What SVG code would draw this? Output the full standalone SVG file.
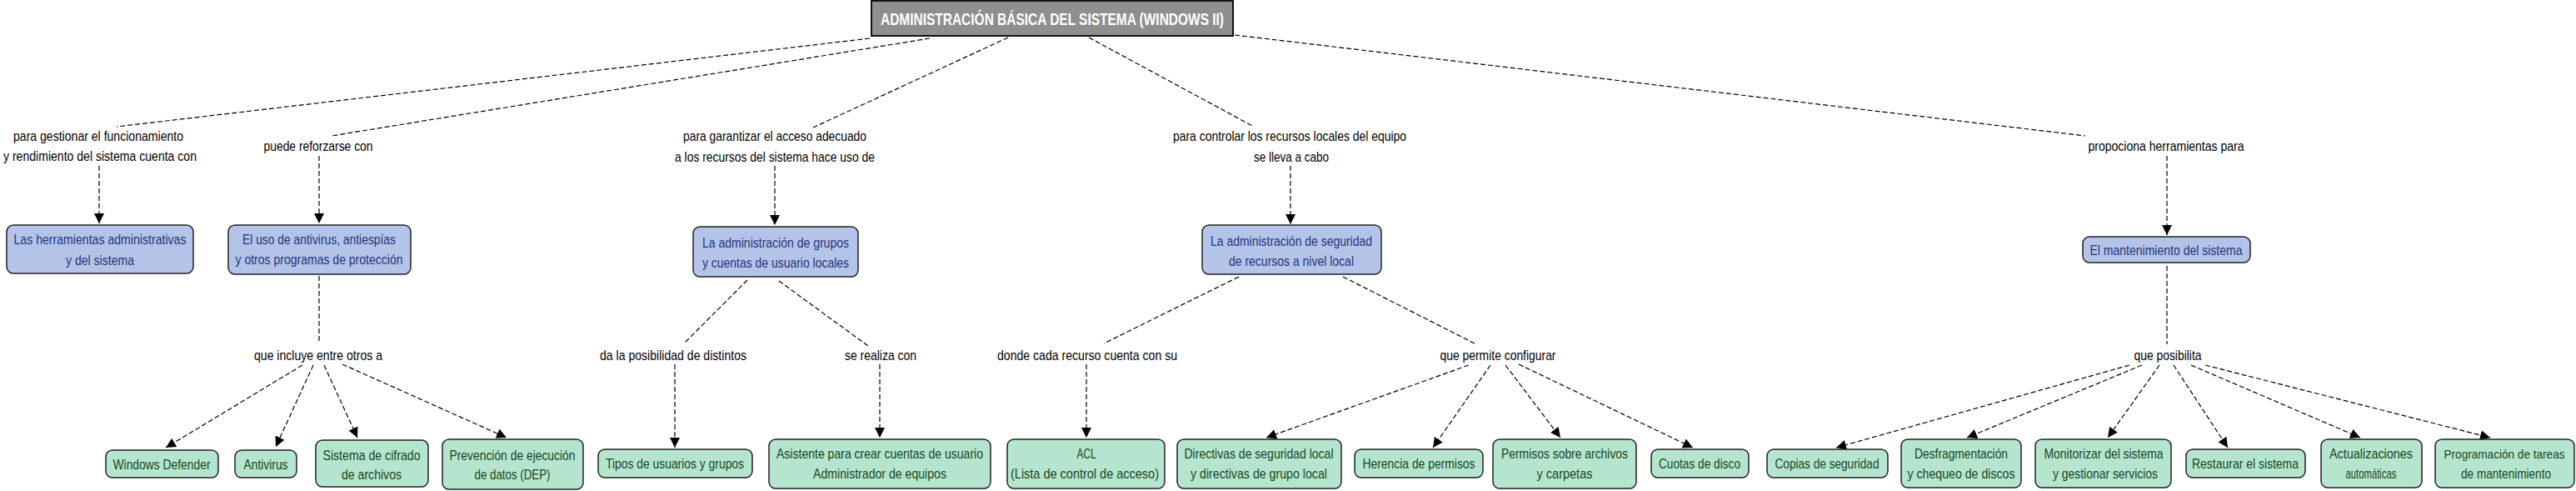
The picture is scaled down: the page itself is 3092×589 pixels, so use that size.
<svg xmlns="http://www.w3.org/2000/svg" width="3092" height="589" viewBox="0 0 3092 589">
<style>
text{font-family:"Liberation Sans",Arial,sans-serif;font-size:17px;text-anchor:middle}
.lbl{fill:#000}
.main rect{fill:#b4c4e8;stroke:#222;stroke-width:1.5}
.main text{fill:#24347a}
.leaf rect{fill:#b5e5cf;stroke:#222;stroke-width:1.5}
.leaf text{fill:#17461a}
.root rect{fill:#8f8f8f;stroke:#111;stroke-width:2}
.root text{fill:#fff;font-weight:bold;font-size:20px}
#connectors line{stroke:#000;stroke-width:1.2;stroke-dasharray:6 3;fill:none}
#connectors line.a{marker-end:url(#arr)}
</style>
<defs>
<marker id="arr" markerUnits="userSpaceOnUse" markerWidth="13" markerHeight="13" refX="12" refY="6" orient="auto">
<path d="M0,0 L12,6 L0,12 z" fill="#000"/>
</marker>
</defs>
<g id="connectors">
<line x1="1044" y1="46" x2="140" y2="152"/>
<line x1="1116" y1="46" x2="398" y2="163"/>
<line x1="1210" y1="45" x2="976" y2="153"/>
<line x1="1307" y1="45" x2="1505" y2="152"/>
<line x1="1482" y1="42" x2="2503" y2="163"/>
<line class="a" x1="119" y1="199" x2="119" y2="268"/>
<line class="a" x1="383" y1="187" x2="383" y2="268"/>
<line x1="383" y1="331" x2="383" y2="412"/>
<line class="a" x1="363" y1="438" x2="199" y2="537"/>
<line class="a" x1="376" y1="438" x2="331" y2="536"/>
<line class="a" x1="389" y1="438" x2="429" y2="525"/>
<line class="a" x1="411" y1="437" x2="608" y2="525"/>
<line class="a" x1="930" y1="199" x2="930" y2="270"/>
<line x1="897" y1="336" x2="821" y2="412"/>
<line x1="935" y1="337" x2="1042" y2="415"/>
<line class="a" x1="810" y1="437" x2="810" y2="537"/>
<line class="a" x1="1056" y1="437" x2="1056" y2="525"/>
<line x1="1487" y1="332" x2="1325" y2="412"/>
<line x1="1612" y1="332" x2="1772" y2="413"/>
<line class="a" x1="1304" y1="437" x2="1304" y2="525"/>
<line class="a" x1="1549" y1="199" x2="1549" y2="269"/>
<line class="a" x1="1763" y1="438" x2="1520" y2="525"/>
<line class="a" x1="1789" y1="438" x2="1720" y2="537"/>
<line class="a" x1="1807" y1="438" x2="1873" y2="525"/>
<line class="a" x1="1823" y1="437" x2="2032" y2="537"/>
<line class="a" x1="2601" y1="187" x2="2601" y2="282"/>
<line x1="2601" y1="319" x2="2601" y2="413"/>
<line class="a" x1="2556" y1="438" x2="2204" y2="537"/>
<line class="a" x1="2571" y1="438" x2="2361" y2="525"/>
<line class="a" x1="2592" y1="438" x2="2530" y2="525"/>
<line class="a" x1="2609" y1="438" x2="2674" y2="537"/>
<line class="a" x1="2630" y1="438" x2="2833" y2="525"/>
<line class="a" x1="2647" y1="438" x2="2989" y2="525"/>
</g>
<g id="labels" class="lbl">
<g id="l1"><text x="118" y="169" textLength="204" lengthAdjust="spacingAndGlyphs">para gestionar el funcionamiento</text><text x="120" y="193" textLength="232" lengthAdjust="spacingAndGlyphs">y rendimiento del sistema cuenta con</text></g>
<g id="l2"><text x="382" y="181" textLength="131" lengthAdjust="spacingAndGlyphs">puede reforzarse con</text></g>
<g id="l3"><text x="382" y="432" textLength="154" lengthAdjust="spacingAndGlyphs">que incluye entre otros a</text></g>
<g id="l4"><text x="930" y="169" textLength="220" lengthAdjust="spacingAndGlyphs">para garantizar el acceso adecuado</text><text x="930" y="194" textLength="240" lengthAdjust="spacingAndGlyphs">a los recursos del sistema hace uso de</text></g>
<g id="l5"><text x="1548" y="169" textLength="280" lengthAdjust="spacingAndGlyphs">para controlar los recursos locales del equipo</text><text x="1550" y="194" textLength="90" lengthAdjust="spacingAndGlyphs">se lleva a cabo</text></g>
<g id="l6"><text x="808" y="432" textLength="176" lengthAdjust="spacingAndGlyphs">da la posibilidad de distintos</text></g>
<g id="l7"><text x="1057" y="432" textLength="86" lengthAdjust="spacingAndGlyphs">se realiza con</text></g>
<g id="l8"><text x="1305" y="432" textLength="216" lengthAdjust="spacingAndGlyphs">donde cada recurso cuenta con su</text></g>
<g id="l9"><text x="2600" y="181" textLength="187" lengthAdjust="spacingAndGlyphs">propociona herramientas para</text></g>
<g id="l10"><text x="1798" y="432" textLength="139" lengthAdjust="spacingAndGlyphs">que permite configurar</text></g>
<g id="l11"><text x="2602" y="432" textLength="81" lengthAdjust="spacingAndGlyphs">que posibilita</text></g>
</g>
<g id="root" class="root"><rect x="1046" y="1" width="434" height="42"/><text x="1263" y="30" textLength="412" lengthAdjust="spacingAndGlyphs">ADMINISTRACIÓN BÁSICA DEL SISTEMA (WINDOWS II)</text></g>
<g id="n-herramientas" class="main"><rect x="8" y="270" width="224" height="58" rx="8"/><text x="120" y="293" textLength="207" lengthAdjust="spacingAndGlyphs">Las herramientas administrativas</text><text x="120" y="318" textLength="82" lengthAdjust="spacingAndGlyphs">y del sistema</text></g>
<g id="n-antivirus-uso" class="main"><rect x="274" y="270" width="219" height="59" rx="8"/><text x="383" y="293" textLength="184" lengthAdjust="spacingAndGlyphs">El uso de antivirus, antiespías</text><text x="383" y="317" textLength="201" lengthAdjust="spacingAndGlyphs">y otros programas de protección</text></g>
<g id="n-grupos" class="main"><rect x="832" y="272" width="198" height="60" rx="8"/><text x="931" y="297" textLength="176" lengthAdjust="spacingAndGlyphs">La administración de grupos</text><text x="931" y="321" textLength="176" lengthAdjust="spacingAndGlyphs">y cuentas de usuario locales</text></g>
<g id="n-seguridad" class="main"><rect x="1443" y="270" width="215" height="59" rx="8"/><text x="1550" y="295" textLength="194" lengthAdjust="spacingAndGlyphs">La administración de seguridad</text><text x="1550" y="319" textLength="150" lengthAdjust="spacingAndGlyphs">de recursos a nivel local</text></g>
<g id="n-mantenimiento" class="main"><rect x="2500" y="284" width="201" height="31" rx="8"/><text x="2600" y="306" textLength="183" lengthAdjust="spacingAndGlyphs">El mantenimiento del sistema</text></g>
<g id="n-defender" class="leaf"><rect x="127" y="540" width="135" height="33" rx="8"/><text x="194" y="563" textLength="117" lengthAdjust="spacingAndGlyphs">Windows Defender</text></g>
<g id="n-antivirus" class="leaf"><rect x="282" y="540" width="74" height="33" rx="8"/><text x="319" y="563" textLength="53" lengthAdjust="spacingAndGlyphs">Antivirus</text></g>
<g id="n-cifrado" class="leaf"><rect x="379" y="528" width="135" height="56" rx="8"/><text x="446" y="552" textLength="117" lengthAdjust="spacingAndGlyphs">Sistema de cifrado</text><text x="446" y="575" textLength="72" lengthAdjust="spacingAndGlyphs">de archivos</text></g>
<g id="n-dep" class="leaf"><rect x="531" y="527" width="169" height="60" rx="8"/><text x="615" y="552" textLength="151" lengthAdjust="spacingAndGlyphs">Prevención de ejecución</text><text x="615" y="575" textLength="91" lengthAdjust="spacingAndGlyphs">de datos (DEP)</text></g>
<g id="n-tipos" class="leaf"><rect x="718" y="539" width="185" height="34" rx="8"/><text x="810" y="562" textLength="166" lengthAdjust="spacingAndGlyphs">Tipos de usuarios y grupos</text></g>
<g id="n-asistente" class="leaf"><rect x="923" y="527" width="266" height="59" rx="8"/><text x="1056" y="550" textLength="248" lengthAdjust="spacingAndGlyphs">Asistente para crear cuentas de usuario</text><text x="1056" y="574" textLength="160" lengthAdjust="spacingAndGlyphs">Administrador de equipos</text></g>
<g id="n-acl" class="leaf"><rect x="1209" y="527" width="189" height="59" rx="8"/><text x="1304" y="550" textLength="23" lengthAdjust="spacingAndGlyphs">ACL</text><text x="1302" y="574" textLength="178" lengthAdjust="spacingAndGlyphs">(Lista de control de acceso)</text></g>
<g id="n-directivas" class="leaf"><rect x="1413" y="527" width="197" height="59" rx="8"/><text x="1511" y="550" textLength="179" lengthAdjust="spacingAndGlyphs">Directivas de seguridad local</text><text x="1511" y="574" textLength="164" lengthAdjust="spacingAndGlyphs">y directivas de grupo local</text></g>
<g id="n-herencia" class="leaf"><rect x="1626" y="539" width="154" height="34" rx="8"/><text x="1703" y="562" textLength="135" lengthAdjust="spacingAndGlyphs">Herencia de permisos</text></g>
<g id="n-permisos" class="leaf"><rect x="1792" y="527" width="172" height="59" rx="8"/><text x="1878" y="550" textLength="152" lengthAdjust="spacingAndGlyphs">Permisos sobre archivos</text><text x="1878" y="574" textLength="67" lengthAdjust="spacingAndGlyphs">y carpetas</text></g>
<g id="n-cuotas" class="leaf"><rect x="1982" y="539" width="117" height="34" rx="8"/><text x="2040" y="562" textLength="98" lengthAdjust="spacingAndGlyphs">Cuotas de disco</text></g>
<g id="n-copias" class="leaf"><rect x="2121" y="539" width="145" height="34" rx="8"/><text x="2193" y="562" textLength="125" lengthAdjust="spacingAndGlyphs">Copias de seguridad</text></g>
<g id="n-desfrag" class="leaf"><rect x="2282" y="527" width="144" height="58" rx="8"/><text x="2354" y="550" textLength="112" lengthAdjust="spacingAndGlyphs">Desfragmentación</text><text x="2354" y="574" textLength="129" lengthAdjust="spacingAndGlyphs">y chequeo de discos</text></g>
<g id="n-monitorizar" class="leaf"><rect x="2443" y="527" width="163" height="58" rx="8"/><text x="2525" y="550" textLength="143" lengthAdjust="spacingAndGlyphs">Monitorizar del sistema</text><text x="2527" y="574" textLength="126" lengthAdjust="spacingAndGlyphs">y gestionar servicios</text></g>
<g id="n-restaurar" class="leaf"><rect x="2624" y="539" width="143" height="34" rx="8"/><text x="2695" y="562" textLength="128" lengthAdjust="spacingAndGlyphs">Restaurar el sistema</text></g>
<g id="n-actualizaciones" class="leaf"><rect x="2786" y="527" width="121" height="58" rx="8"/><text x="2846" y="550" textLength="100" lengthAdjust="spacingAndGlyphs">Actualizaciones</text><text x="2846" y="574" textLength="61" lengthAdjust="spacingAndGlyphs">automáticas</text></g>
<g id="n-programacion" class="leaf"><rect x="2923" y="527" width="167" height="58" rx="8"/><text x="3006" y="550" style="font-size:15px" textLength="145" lengthAdjust="spacingAndGlyphs">Programación de tareas</text><text x="3008" y="574" textLength="108" lengthAdjust="spacingAndGlyphs">de mantenimiento</text></g>
</svg>
